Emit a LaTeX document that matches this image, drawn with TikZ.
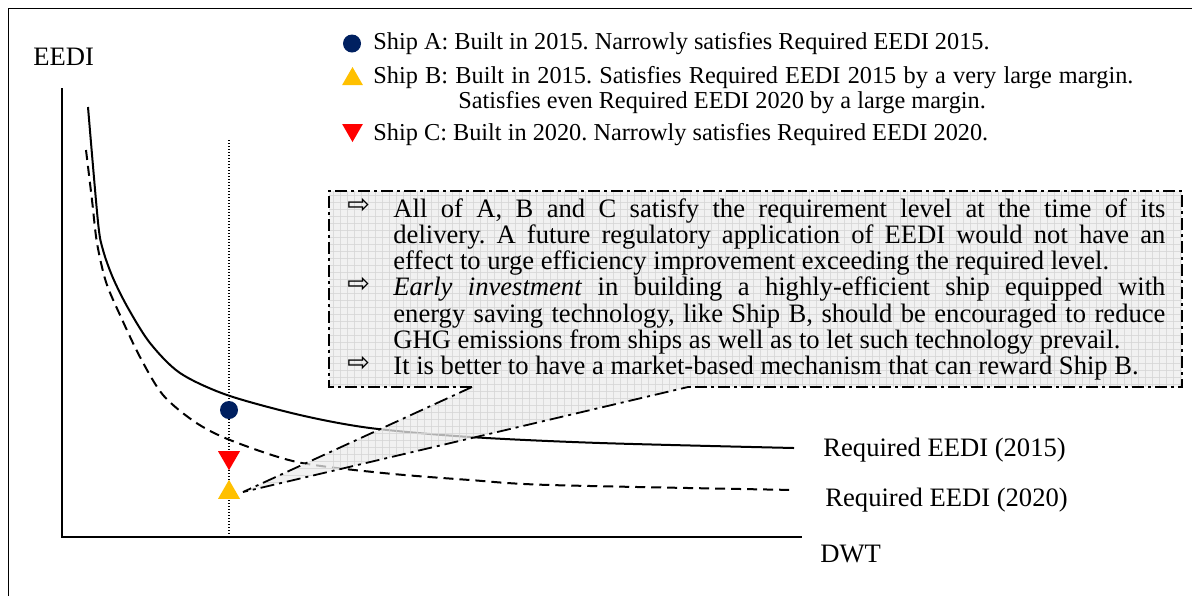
\documentclass[tikz,border=0pt]{standalone}
\usepackage{fontspec}
\setmainfont{Liberation Serif}
\newfontfamily\arrowfont{DejaVu Sans}
\usetikzlibrary{shapes.geometric}
\definecolor{navyA}{RGB}{0,32,96}
\definecolor{yellowB}{RGB}{255,192,0}
\definecolor{redC}{RGB}{255,0,0}
\definecolor{boxfill}{RGB}{236,236,236}
\definecolor{gridc}{RGB}{214,214,214}
\newcommand{\jl}[1]{\makebox[386pt][s]{#1}}
\frenchspacing
\begin{document}
\begin{tikzpicture}[x=0.5pt,y=-0.5pt,
  lbl/.style={inner sep=0pt, anchor=base west, font=\fontsize{13.3}{15}\selectfont},
  leg/.style={inner sep=0pt, anchor=base west, font=\fontsize{12.15}{14}\selectfont},
  bul/.style={inner sep=0pt, anchor=west, font=\arrowfont\fontsize{13.5}{14}\selectfont},
  curve/.style={line width=1pt},
  axisline/.style={line width=1pt},
  boxborder/.style={line width=0.9pt, dash pattern=on 6pt off 2pt on 1.5pt off 2pt},
  wedgeborder/.style={line width=0.9pt, dash pattern=on 7pt off 2.5pt on 1.5pt off 2.5pt},
  markA/.style={circle, fill=navyA, inner sep=0pt, minimum size=9pt},
  triup/.style={regular polygon, regular polygon sides=3, inner sep=0pt, minimum size=12.7pt},
  tridown/.style={triup, shape border rotate=180},
]
\useasboundingbox (0,0) rectangle (1192,596);
% frame
\draw[line width=0.8pt, black] (8.5,596) -- (8.5,8.5) -- (1192,8.5);

% axes
\coordinate (ytop) at (62,88);
\coordinate (O) at (62,537);
\coordinate (xend) at (802,537);
\draw[axisline] (ytop) -- (O) -- (xend);
\node[lbl] (eedi) at (33,65) {EEDI};
\node[lbl] (dwt) at (820,562) {DWT};

% dotted vertical
\coordinate (dtop) at (229,140);
\coordinate (dbot) at (229,537);
\draw[line width=0.6pt, dash pattern=on 0.6pt off 0.9pt] (dtop) -- (dbot);

% curves
\draw[curve] plot[smooth, tension=0.5] coordinates {(88,107) (98,222) (103,250) (113,278) (128,308) (150,343) (180,373) (227,395) (300,415) (370,428) (470,437) (600,443) (794,448)};
\draw[curve, dash pattern=on 5pt off 3pt] plot[smooth, tension=0.5] coordinates {(86,150) (92,200) (97,243) (106,282) (120,315) (140,357) (163,395) (195,422) (230,440) (297,462) (383,473) (470,480) (550,485) (795,490)};
\node[lbl] (r15) at (823,456) {Required EEDI (2015)};
\node[lbl] (r20) at (825,506) {Required EEDI (2020)};

% markers
\node[markA] (shipA) at (229,410) {};
\node[tridown, fill=redC] (shipC) at (229,457.5) {};
\node[triup, fill=yellowB] (shipB) at (229,492.5) {};
\coordinate (tipB) at (243,492);

% callout
\coordinate (c1) at (472,387);
\coordinate (c2) at (688,387);
\path[fill=boxfill, fill opacity=0.75] (329,191) -- (1182,191) -- (1182,387) -- (c2) -- (tipB) -- (c1) -- (329,387) -- cycle;
\begin{scope}
\clip (329,191) -- (1182,191) -- (1182,387) -- (c2) -- (tipB) -- (c1) -- (329,387) -- cycle;
\foreach \gx in {333,340,...,1182} \draw[gridc, line width=0.3pt, opacity=0.8] (\gx,191) -- (\gx,495);
\foreach \gy in {195,202,...,495} \draw[gridc, line width=0.3pt, opacity=0.8] (240,\gy) -- (1182,\gy);
\end{scope}
\draw[boxborder] (c1) -- (329,387) -- (329,191) -- (1182,191) -- (1182,387) -- (c2);
\draw[wedgeborder] (c1) -- (tipB) -- (c2);

% box text
\node[bul] (a1) at (347,206) {⇨};
\node[bul] (a2) at (347,285) {⇨};
\node[bul] (a3) at (347,364) {⇨};
\node[lbl] (b1) at (393,217) {\jl{All of A, B and C satisfy the requirement level at the time of its}};
\node[lbl] (b2) at (393,243.3) {\jl{delivery. A future regulatory application of EEDI would not have an}};
\node[lbl] (b3) at (393,269.6) {effect to urge efficiency improvement exceeding the required level.};
\node[lbl] (b4) at (393,295.9) {\jl{\textit{Early investment} in building a highly-efficient ship equipped with}};
\node[lbl] (b5) at (393,322.2) {\jl{energy saving technology, like Ship B, should be encouraged to reduce}};
\node[lbl] (b6) at (393,348.5) {GHG emissions from ships as well as to let such technology prevail.};
\node[lbl] (b7) at (393,374.8) {It is better to have a market-based mechanism that can reward Ship B.};

% legend
\node[markA] (lgA) at (352,43.5) {};
\node[triup, fill=yellowB, minimum size=12pt] (lgB) at (352.5,79) {};
\node[tridown, fill=redC, minimum size=12pt] (lgC) at (352.5,130) {};
\node[leg] (la) at (373,49) {Ship A: Built in 2015. Narrowly satisfies Required EEDI 2015.};
\node[leg] (lb1) at (373,83) {\makebox[380pt][s]{Ship B: Built in 2015. Satisfies Required EEDI 2015 by a very large margin.}};
\node[leg] (lb2) at (458,108) {Satisfies even Required EEDI 2020 by a large margin.};
\node[leg] (lc) at (373,140) {Ship C: Built in 2020. Narrowly satisfies Required EEDI 2020.};
\end{tikzpicture}
\end{document}
